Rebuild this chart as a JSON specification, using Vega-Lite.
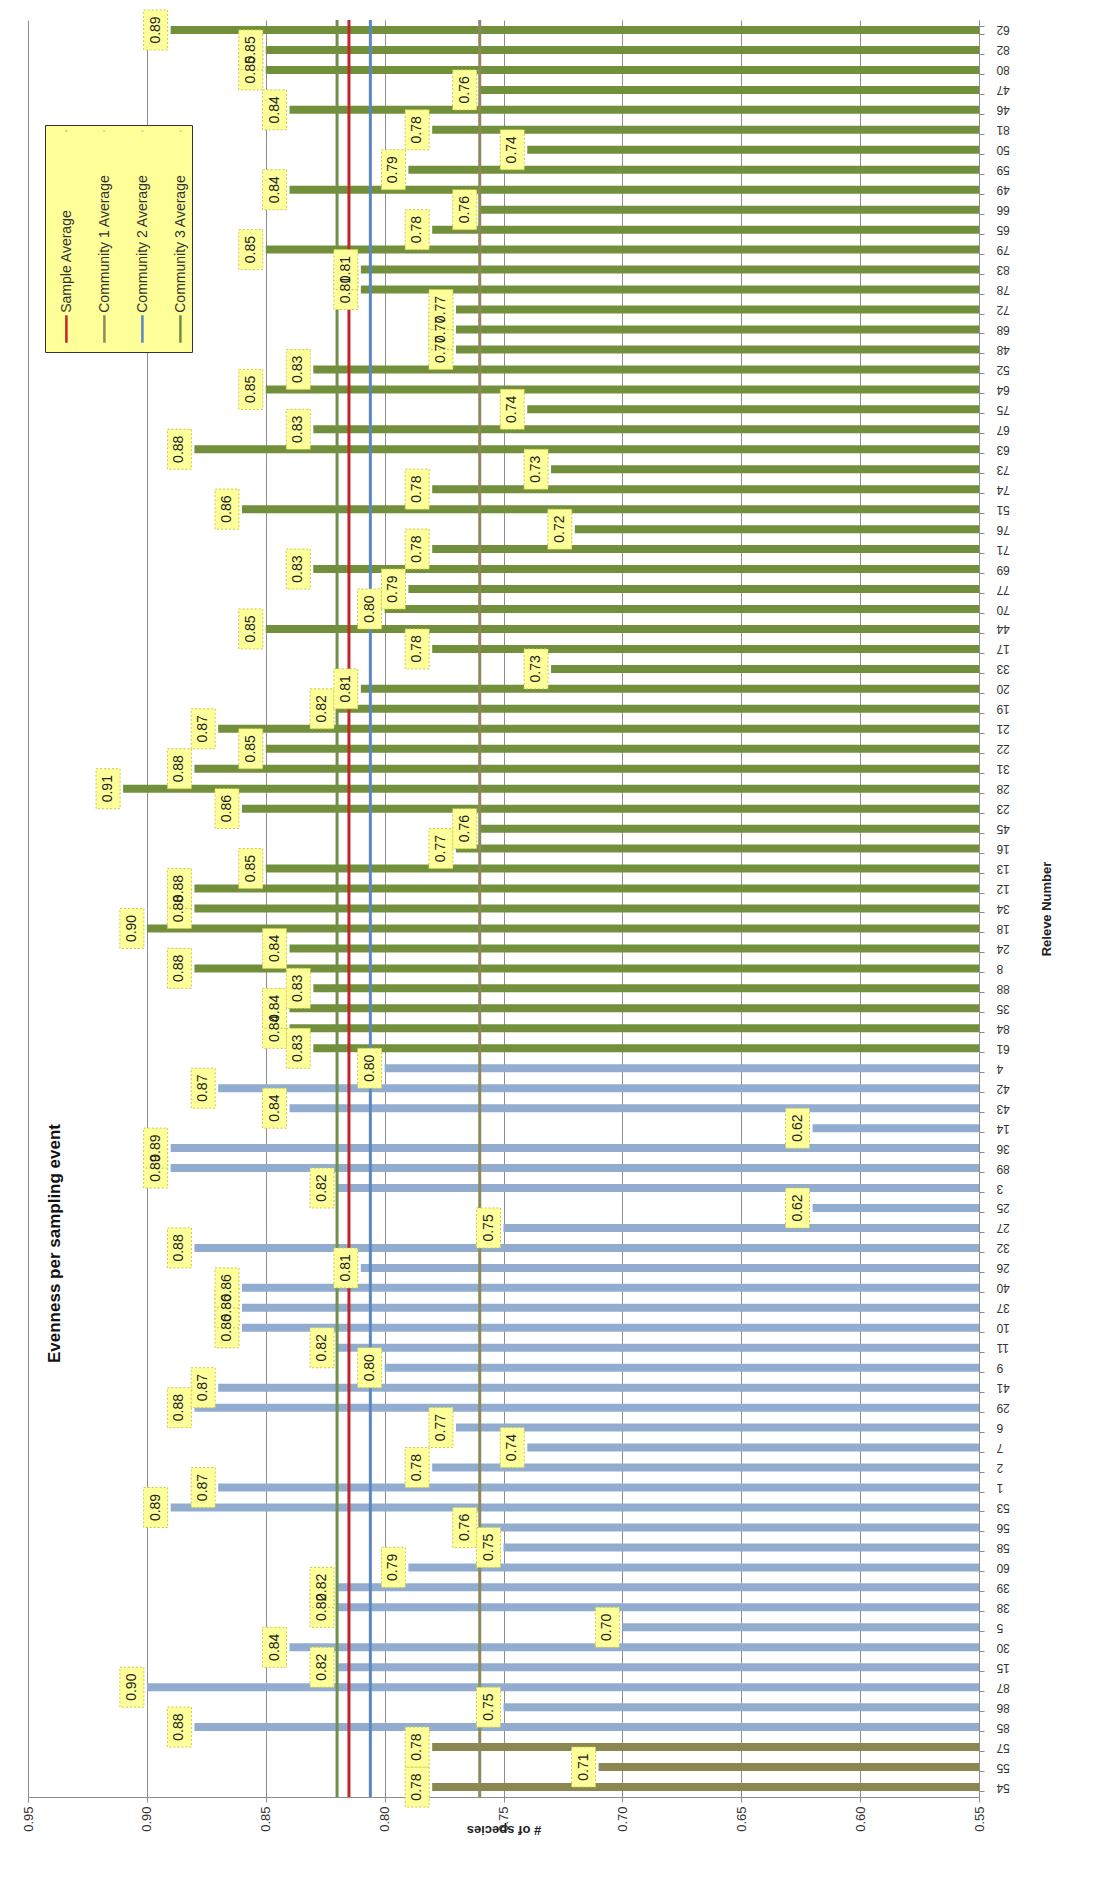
{
  "$schema": "https://vega.github.io/schema/vega-lite/v6.json",
  "width": 951,
  "height": 1777,
  "autosize": {"type": "none"},
  "padding": {"left": 28, "top": 20, "right": 114, "bottom": 81},
  "background": "white",
  "config": {
    "view": {"stroke": null},
    "font": "Liberation Sans"
  },
  "title": {
    "text": "Evenness per sampling event",
    "orient": "left",
    "anchor": "middle",
    "offset": -42,
    "dx": -335,
    "fontSize": 17,
    "fontWeight": "bold",
    "color": "#111111"
  },
  "datasets": {
    "releves": [
      {"releve": 54, "evenness": 0.78, "community": "Community 1"},
      {"releve": 55, "evenness": 0.71, "community": "Community 1"},
      {"releve": 57, "evenness": 0.78, "community": "Community 1"},
      {"releve": 85, "evenness": 0.88, "community": "Community 2"},
      {"releve": 86, "evenness": 0.75, "community": "Community 2"},
      {"releve": 87, "evenness": 0.90, "community": "Community 2"},
      {"releve": 15, "evenness": 0.82, "community": "Community 2"},
      {"releve": 30, "evenness": 0.84, "community": "Community 2"},
      {"releve": 5, "evenness": 0.70, "community": "Community 2"},
      {"releve": 38, "evenness": 0.82, "community": "Community 2"},
      {"releve": 39, "evenness": 0.82, "community": "Community 2"},
      {"releve": 60, "evenness": 0.79, "community": "Community 2"},
      {"releve": 58, "evenness": 0.75, "community": "Community 2"},
      {"releve": 56, "evenness": 0.76, "community": "Community 2"},
      {"releve": 53, "evenness": 0.89, "community": "Community 2"},
      {"releve": 1, "evenness": 0.87, "community": "Community 2"},
      {"releve": 2, "evenness": 0.78, "community": "Community 2"},
      {"releve": 7, "evenness": 0.74, "community": "Community 2"},
      {"releve": 6, "evenness": 0.77, "community": "Community 2"},
      {"releve": 29, "evenness": 0.88, "community": "Community 2"},
      {"releve": 41, "evenness": 0.87, "community": "Community 2"},
      {"releve": 9, "evenness": 0.80, "community": "Community 2"},
      {"releve": 11, "evenness": 0.82, "community": "Community 2"},
      {"releve": 10, "evenness": 0.86, "community": "Community 2"},
      {"releve": 37, "evenness": 0.86, "community": "Community 2"},
      {"releve": 40, "evenness": 0.86, "community": "Community 2"},
      {"releve": 26, "evenness": 0.81, "community": "Community 2"},
      {"releve": 32, "evenness": 0.88, "community": "Community 2"},
      {"releve": 27, "evenness": 0.75, "community": "Community 2"},
      {"releve": 25, "evenness": 0.62, "community": "Community 2"},
      {"releve": 3, "evenness": 0.82, "community": "Community 2"},
      {"releve": 89, "evenness": 0.89, "community": "Community 2"},
      {"releve": 36, "evenness": 0.89, "community": "Community 2"},
      {"releve": 14, "evenness": 0.62, "community": "Community 2"},
      {"releve": 43, "evenness": 0.84, "community": "Community 2"},
      {"releve": 42, "evenness": 0.87, "community": "Community 2"},
      {"releve": 4, "evenness": 0.80, "community": "Community 2"},
      {"releve": 61, "evenness": 0.83, "community": "Community 3"},
      {"releve": 84, "evenness": 0.84, "community": "Community 3"},
      {"releve": 35, "evenness": 0.84, "community": "Community 3"},
      {"releve": 88, "evenness": 0.83, "community": "Community 3"},
      {"releve": 8, "evenness": 0.88, "community": "Community 3"},
      {"releve": 24, "evenness": 0.84, "community": "Community 3"},
      {"releve": 18, "evenness": 0.90, "community": "Community 3"},
      {"releve": 34, "evenness": 0.88, "community": "Community 3"},
      {"releve": 12, "evenness": 0.88, "community": "Community 3"},
      {"releve": 13, "evenness": 0.85, "community": "Community 3"},
      {"releve": 16, "evenness": 0.77, "community": "Community 3"},
      {"releve": 45, "evenness": 0.76, "community": "Community 3"},
      {"releve": 23, "evenness": 0.86, "community": "Community 3"},
      {"releve": 28, "evenness": 0.91, "community": "Community 3"},
      {"releve": 31, "evenness": 0.88, "community": "Community 3"},
      {"releve": 22, "evenness": 0.85, "community": "Community 3"},
      {"releve": 21, "evenness": 0.87, "community": "Community 3"},
      {"releve": 19, "evenness": 0.82, "community": "Community 3"},
      {"releve": 20, "evenness": 0.81, "community": "Community 3"},
      {"releve": 33, "evenness": 0.73, "community": "Community 3"},
      {"releve": 17, "evenness": 0.78, "community": "Community 3"},
      {"releve": 44, "evenness": 0.85, "community": "Community 3"},
      {"releve": 70, "evenness": 0.80, "community": "Community 3"},
      {"releve": 77, "evenness": 0.79, "community": "Community 3"},
      {"releve": 69, "evenness": 0.83, "community": "Community 3"},
      {"releve": 71, "evenness": 0.78, "community": "Community 3"},
      {"releve": 76, "evenness": 0.72, "community": "Community 3"},
      {"releve": 51, "evenness": 0.86, "community": "Community 3"},
      {"releve": 74, "evenness": 0.78, "community": "Community 3"},
      {"releve": 73, "evenness": 0.73, "community": "Community 3"},
      {"releve": 63, "evenness": 0.88, "community": "Community 3"},
      {"releve": 67, "evenness": 0.83, "community": "Community 3"},
      {"releve": 75, "evenness": 0.74, "community": "Community 3"},
      {"releve": 64, "evenness": 0.85, "community": "Community 3"},
      {"releve": 52, "evenness": 0.83, "community": "Community 3"},
      {"releve": 48, "evenness": 0.77, "community": "Community 3"},
      {"releve": 68, "evenness": 0.77, "community": "Community 3"},
      {"releve": 72, "evenness": 0.77, "community": "Community 3"},
      {"releve": 78, "evenness": 0.81, "community": "Community 3"},
      {"releve": 83, "evenness": 0.81, "community": "Community 3"},
      {"releve": 79, "evenness": 0.85, "community": "Community 3"},
      {"releve": 65, "evenness": 0.78, "community": "Community 3"},
      {"releve": 66, "evenness": 0.76, "community": "Community 3"},
      {"releve": 49, "evenness": 0.84, "community": "Community 3"},
      {"releve": 59, "evenness": 0.79, "community": "Community 3"},
      {"releve": 50, "evenness": 0.74, "community": "Community 3"},
      {"releve": 81, "evenness": 0.78, "community": "Community 3"},
      {"releve": 46, "evenness": 0.84, "community": "Community 3"},
      {"releve": 47, "evenness": 0.76, "community": "Community 3"},
      {"releve": 80, "evenness": 0.85, "community": "Community 3"},
      {"releve": 82, "evenness": 0.85, "community": "Community 3"},
      {"releve": 62, "evenness": 0.89, "community": "Community 3"}
    ],
    "averages": [
      {"series": "Sample Average", "avg": 0.815},
      {"series": "Community 1 Average", "avg": 0.760},
      {"series": "Community 2 Average", "avg": 0.806},
      {"series": "Community 3 Average", "avg": 0.820}
    ]
  },
  "layer": [
    {
      "data": {"name": "releves"},
      "encoding": {
        "y": {
          "field": "releve",
          "type": "nominal",
          "sort": [62, 82, 80, 47, 46, 81, 50, 59, 49, 66, 65, 79, 83, 78, 72, 68, 48, 52, 64, 75, 67, 63, 73, 74, 51, 76, 71, 69, 77, 70, 44, 17, 33, 20, 19, 21, 22, 31, 28, 23, 45, 16, 13, 12, 34, 18, 24, 8, 88, 35, 84, 61, 4, 42, 43, 14, 36, 89, 3, 25, 27, 32, 26, 40, 37, 10, 11, 9, 41, 29, 6, 7, 2, 1, 53, 56, 58, 60, 39, 38, 5, 30, 15, 87, 86, 85, 57, 55, 54],
          "scale": {"paddingInner": 0.6, "paddingOuter": 0.3},
          "axis": {
            "orient": "right",
            "title": "Releve Number",
            "titleAngle": 270,
            "titleFontSize": 13,
            "titleFontWeight": "bold",
            "titleColor": "#222222",
            "titlePadding": 44,
            "labelAngle": 180,
            "labelAlign": "right",
            "labelBaseline": "middle",
            "labelFontSize": 12,
            "labelColor": "#333333",
            "labelPadding": 12,
            "tickBand": "extent",
            "tickSize": 5,
            "tickColor": "#8c8c8c",
            "domainColor": "#8c8c8c",
            "grid": false
          }
        },
        "x": {
          "field": "evenness",
          "type": "quantitative",
          "scale": {"domain": [0.55, 0.95], "reverse": true, "zero": false, "nice": false},
          "axis": {
            "orient": "bottom",
            "values": [0.55, 0.6, 0.65, 0.7, 0.75, 0.8, 0.85, 0.9, 0.95],
            "format": ".2f",
            "labelAngle": 270,
            "labelFontSize": 13,
            "labelColor": "#333333",
            "labelPadding": 4,
            "grid": true,
            "gridColor": "#8c8c8c",
            "gridWidth": 1,
            "domainColor": "#8c8c8c",
            "tickColor": "#8c8c8c",
            "tickSize": 5,
            "title": "# of species",
            "titleAngle": 180,
            "titleFontSize": 13,
            "titleFontWeight": "bold",
            "titleColor": "#222222"
          }
        }
      },
      "layer": [
        {
          "mark": {"type": "bar", "size": 8},
          "encoding": {
            "x2": {"datum": 0.55},
            "color": {
              "field": "community",
              "type": "nominal",
              "scale": {
                "domain": ["Community 1", "Community 2", "Community 3"],
                "range": ["#8a8752", "#92acd0", "#72903b"]
              },
              "legend": null
            }
          }
        }
      ]
    },
    {
      "data": {"name": "averages"},
      "mark": {"type": "rule", "strokeWidth": 3},
      "encoding": {
        "x": {"field": "avg", "type": "quantitative"},
        "color": {
          "field": "series",
          "type": "nominal",
          "scale": {
            "domain": ["Sample Average", "Community 1 Average", "Community 2 Average", "Community 3 Average"],
            "range": ["#c0262b", "#8c8a5c", "#5b87c0", "#6f8f4a"]
          },
          "legend": {
            "orient": "none",
            "legendX": 17,
            "legendY": 105,
            "direction": "horizontal",
            "title": null,
            "fillColor": "#ffff99",
            "strokeColor": "#333333",
            "padding": 4,
            "symbolType": "M-0.85,-1L-0.85,-0.995M-0.85,0.74L-0.85,1",
            "symbolSize": 44944,
            "symbolStrokeWidth": 2.5,
            "labelFontSize": 14,
            "labelColor": "#333333",
            "labelOffset": -197,
            "labelLimit": 0,
            "columnPadding": 12,
            "encode": {"labels": {"update": {"angle": {"value": 270}, "dx": {"value": -76}}}}
          }
        }
      }
    },
    {
      "data": {"name": "releves"},
      "encoding": {
        "y": {
          "field": "releve",
          "type": "nominal",
          "sort": [62, 82, 80, 47, 46, 81, 50, 59, 49, 66, 65, 79, 83, 78, 72, 68, 48, 52, 64, 75, 67, 63, 73, 74, 51, 76, 71, 69, 77, 70, 44, 17, 33, 20, 19, 21, 22, 31, 28, 23, 45, 16, 13, 12, 34, 18, 24, 8, 88, 35, 84, 61, 4, 42, 43, 14, 36, 89, 3, 25, 27, 32, 26, 40, 37, 10, 11, 9, 41, 29, 6, 7, 2, 1, 53, 56, 58, 60, 39, 38, 5, 30, 15, 87, 86, 85, 57, 55, 54],
          "scale": {"paddingInner": 0.6, "paddingOuter": 0.3},
          "axis": {
            "orient": "right",
            "title": "Releve Number",
            "titleAngle": 270,
            "titleFontSize": 13,
            "titleFontWeight": "bold",
            "titleColor": "#222222",
            "titlePadding": 44,
            "labelAngle": 180,
            "labelAlign": "right",
            "labelBaseline": "middle",
            "labelFontSize": 12,
            "labelColor": "#333333",
            "labelPadding": 12,
            "tickBand": "extent",
            "tickSize": 5,
            "tickColor": "#8c8c8c",
            "domainColor": "#8c8c8c",
            "grid": false
          }
        },
        "x": {"field": "evenness", "type": "quantitative"}
      },
      "layer": [
        {
          "mark": {
            "type": "point",
            "shape": "M-0.6,-1H0.6V1H-0.6Z",
            "size": 1600,
            "filled": true,
            "fill": "#ffff99",
            "stroke": "#c8c850",
            "strokeWidth": 1,
            "strokeDash": [2, 2],
            "opacity": 1,
            "fillOpacity": 1,
            "strokeOpacity": 1,
            "xOffset": -15
          }
        },
        {
          "mark": {
            "type": "text",
            "angle": 270,
            "fontSize": 14,
            "align": "center",
            "baseline": "middle",
            "color": "#222222",
            "xOffset": -15
          },
          "encoding": {
            "text": {"field": "evenness", "type": "quantitative", "format": ".2f"}
          }
        }
      ]
    }
  ],
  "resolve": {"scale": {"color": "independent"}}
}
